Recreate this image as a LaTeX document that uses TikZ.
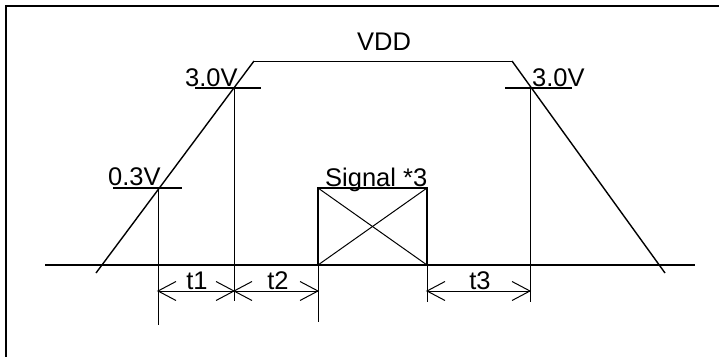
\documentclass[tikz,border=0pt]{standalone}
\usepackage{fontspec}
\setmainfont{Liberation Sans}
\begin{document}
\begin{tikzpicture}[x=1pt,y=-1pt,
  thickline/.style={line width=2pt},
  midline/.style={line width=1.4pt},
  thinline/.style={line width=1pt},
  lbl/.style={inner sep=0pt,font=\fontsize{25.5}{28}\selectfont}
]
\useasboundingbox (0,0) rectangle (719,356);
% frame
\coordinate (fbl) at (6,357);
\coordinate (ftl) at (6,6);
\coordinate (ftr) at (720,6);
\draw[thickline] (fbl) -- (ftl) -- (ftr);
% baseline
\coordinate (b0) at (45,265);
\coordinate (b1) at (695,265);
\draw[thickline] (b0) -- (b1);
% waveform
\coordinate (r0) at (96,273);
\coordinate (r1) at (254,61);
\coordinate (r2) at (512,61);
\coordinate (r3) at (665,273);
\draw[midline] (r0) -- (r1);
\draw[thinline] (r1) -- (r2);
\draw[midline] (r2) -- (r3);
% ticks
\coordinate (ta0) at (195,88); \coordinate (ta1) at (261,88);
\coordinate (tb0) at (113,188); \coordinate (tb1) at (182,188);
\coordinate (tc0) at (505,88); \coordinate (tc1) at (572,88);
\draw[midline] (ta0) -- (ta1);
\draw[midline] (tb0) -- (tb1);
\draw[midline] (tc0) -- (tc1);
% verticals
\coordinate (v1t) at (158,188); \coordinate (v1b) at (158,325);
\coordinate (v2t) at (234,88); \coordinate (v2b) at (234,301);
\coordinate (v3t) at (530,88); \coordinate (v3b) at (530,302);
\draw[thinline] (v1t) -- (v1b);
\draw[thinline] (v2t) -- (v2b);
\draw[thinline] (v3t) -- (v3b);
% signal box
\coordinate (s0) at (318,188);
\coordinate (s1) at (427,265);
\coordinate (s2) at (318,265);
\coordinate (s3) at (427,188);
\draw[midline] (s0) rectangle (s1);
\draw[thinline] (s0) -- (s1);
\draw[thinline] (s2) -- (s3);
\coordinate (s2b) at (318,322);
\coordinate (s1b) at (427,302);
\draw[thinline] (s2) -- (s2b);
\draw[thinline] (s1) -- (s1b);
% dimensions with open barbs
\coordinate (d1) at (158,291);
\coordinate (d2) at (234,291);
\coordinate (d3) at (318,291);
\coordinate (d4) at (427,291);
\coordinate (d5) at (530,291);
\draw[thinline] (d1) -- (d2);
\draw[thinline] (d2) -- (d3);
\draw[thinline] (d4) -- (d5);
\foreach \p in {d1,d2,d4}
  \draw[thinline] (\p) ++(18,-9.5) -- (\p) -- ++(18,9.5);
\foreach \p in {d2,d3,d5}
  \draw[thinline] (\p) ++(-18,-9.5) -- (\p) -- ++(-18,9.5);
% labels
\node[lbl,anchor=base west] (lvdd) at (357,50) {VDD};
\node[lbl,anchor=base west] (l30a) at (185,86) {3.0V};
\node[lbl,anchor=base west] (l03) at (108,185) {0.3V};
\node[lbl,anchor=base west] (l30b) at (532,86) {3.0V};
\node[lbl,anchor=base west] (lsig) at (325,186) {Signal *3};
\node[lbl,anchor=base] (lt1) at (197,289) {t1};
\node[lbl,anchor=base] (lt2) at (278,289) {t2};
\node[lbl,anchor=base] (lt3) at (480,289) {t3};
\end{tikzpicture}
\end{document}
